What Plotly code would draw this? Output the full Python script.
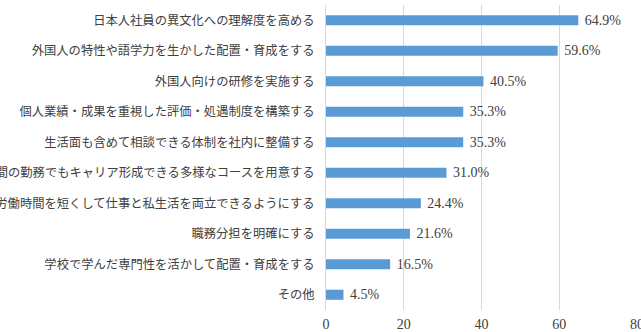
import plotly.graph_objects as go

categories = [
    "日本人社員の異文化への理解度を高める",
    "外国人の特性や語学力を生かした配置・育成をする",
    "外国人向けの研修を実施する",
    "個人業績・成果を重視した評価・処遇制度を構築する",
    "生活面も含めて相談できる体制を社内に整備する",
    "短時間の勤務でもキャリア形成できる多様なコースを用意する",
    "労働時間を短くして仕事と私生活を両立できるようにする",
    "職務分担を明確にする",
    "学校で学んだ専門性を活かして配置・育成をする",
    "その他",
]
values = [64.9, 59.6, 40.5, 35.3, 35.3, 31.0, 24.4, 21.6, 16.5, 4.5]
x_ticks = [0, 20, 40, 60, 80]

fig = go.Figure(go.Bar(
    x=values,
    y=categories,
    orientation="h",
    marker=dict(color="#5B9BD5", line=dict(width=0)),
    width=0.33,
    text=[f"\u00a0{v:.1f}%" for v in values],
    textposition="outside",
    constraintext="none",
    cliponaxis=False,
    textfont=dict(family="Liberation Serif, DejaVu Serif, serif", size=14, color="#404040"),
))

fig.update_layout(
    width=641, height=332,
    margin=dict(l=326, r=4, t=5, b=22, autoexpand=False),
    paper_bgcolor="white", plot_bgcolor="white",
    showlegend=False,
    bargap=0.67,
)
fig.update_xaxes(
    range=[0, 80], tickvals=x_ticks, ticktext=[str(t) for t in x_ticks],
    showgrid=True, gridcolor="#D9D9D9", gridwidth=1,
    zeroline=False, showline=False,
    ticklabeloverflow="allow",
    ticklabelstandoff=4,
    tickfont=dict(family="Liberation Serif, DejaVu Serif, serif", size=14, color="#404040"),
    automargin=False,
)
fig.update_yaxes(
    autorange="reversed",
    showline=True, linecolor="#D9D9D9", linewidth=1,
    showgrid=False, ticks="",
    ticklabelstandoff=8,
    tickfont=dict(family="Noto Sans CJK JP", size=12.3, color="#404040"),
    automargin=False,
)

fig.write_html("out.html")
